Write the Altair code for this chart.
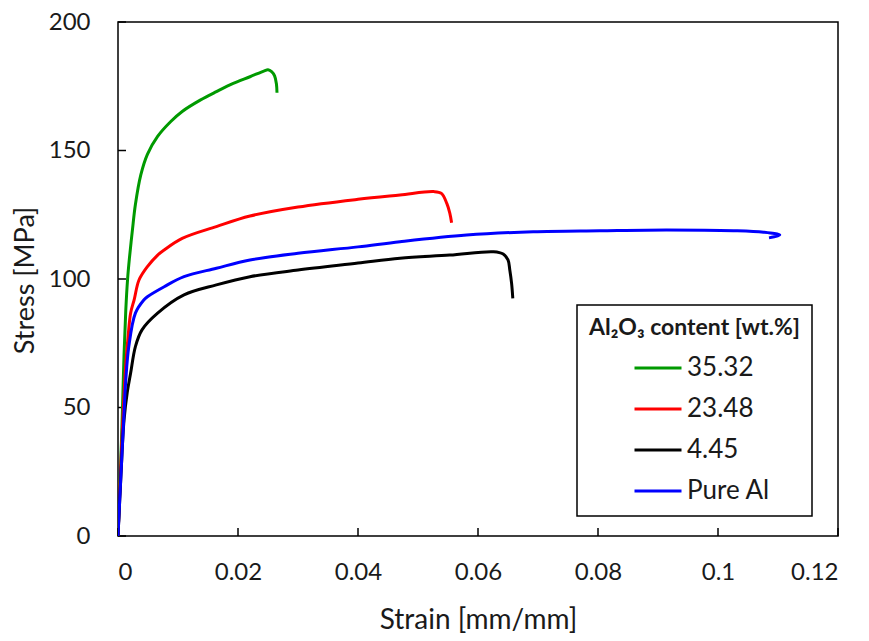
import altair as alt
import pandas as pd

# ---- data ----
series_names = ["35.32", "23.48", "4.45", "Pure Al"]
series_colors = ["#009a00", "#ff0000", "#000000", "#0000ff"]

green_strain = [0, 0.0004, 0.0007, 0.001, 0.0013, 0.0016, 0.0019, 0.0024, 0.0029, 0.0038,
                0.0049, 0.0066, 0.0088, 0.0107, 0.0137, 0.0164, 0.0192, 0.022, 0.0244,
                0.025, 0.0256, 0.0261, 0.0264, 0.0265]
green_stress = [0, 25, 46, 70, 88, 100, 108, 119, 129, 140.5,
                148.5, 155.5, 161.3, 165.2, 169.6, 172.9, 176.1, 178.7, 181.0,
                181.4, 180.7, 179.0, 176.0, 172.5]

red_strain = [0, 0.0004, 0.0009, 0.0013, 0.0017, 0.0021, 0.0027, 0.0035, 0.0049, 0.0067,
              0.0077, 0.0107, 0.0164, 0.022, 0.03, 0.04, 0.047, 0.0526, 0.0539, 0.0548,
              0.0553, 0.0556]
red_stress = [0, 23, 50, 67, 78, 86.7, 92, 99.6, 104.8, 109.5,
              111.3, 115.8, 120.4, 124.5, 128, 131, 132.7, 134, 133.3, 129.4,
              125.6, 121.9]

black_strain = [0, 0.0005, 0.001, 0.00155, 0.0021, 0.0029, 0.004, 0.0066, 0.011, 0.0164,
                0.022, 0.03, 0.04, 0.047, 0.0553, 0.0626, 0.0642, 0.065, 0.0653, 0.0656,
                0.0658]
black_stress = [0, 24, 45, 56, 63.3, 73.7, 80.2, 86.7, 93.8, 97.7,
                100.9, 103.5, 106.2, 108.1, 109.3, 110.6, 109.7, 107.4, 103.5, 98.3,
                92.5]

blue_strain = [0, 0.00045, 0.001, 0.0013, 0.0018, 0.0029, 0.0043, 0.0049, 0.0077, 0.011,
               0.0164, 0.022, 0.03, 0.04, 0.047, 0.0581, 0.0692, 0.0803, 0.0914, 0.1026,
               0.1076, 0.1103, 0.1085]
blue_stress = [0, 21.8, 47.7, 60.7, 73.7, 86.7, 91.8, 93.1, 97, 100.9,
               104.2, 107.4, 110, 112.5, 114.5, 117.1, 118.4, 118.8, 119.1, 118.8,
               118.2, 117.1, 116.0]

x_ticks = [0, 0.02, 0.04, 0.06, 0.08, 0.1, 0.12]
y_ticks = [0, 50, 100, 150, 200]

# ---- build table ----
rows = []
for name, xs, ys in zip(series_names,
                        [green_strain, red_strain, black_strain, blue_strain],
                        [green_stress, red_stress, black_stress, blue_stress]):
    for i, (sx, sy) in enumerate(zip(xs, ys)):
        rows.append({"series": name, "strain": sx, "stress": sy, "idx": i})
df = pd.DataFrame(rows)

W, H = 720, 514
FONT = "Lato"
TXT = "#1a1a1a"

x_axis = alt.Axis(values=x_ticks, format="~g", title="Strain [mm/mm]", grid=False,
                  domain=False, ticks=False, tickSize=0, labelFont=FONT, labelFontSize=24,
                  labelColor=TXT, labelPadding=24, titleFont=FONT, titleFontSize=28,
                  titleFontWeight="normal", titleColor=TXT, titleY=84,
                  titleBaseline="middle")
y_axis = alt.Axis(values=y_ticks, title="Stress [MPa]", grid=False, domain=False,
                  ticks=False, tickSize=0, labelFont=FONT, labelFontSize=24,
                  labelColor=TXT, labelPadding=28, titleFont=FONT, titleFontSize=27,
                  titleFontWeight="normal", titleColor=TXT, titleX=-93, titleY=258,
                  titleAngle=270, titleBaseline="middle", titleAlign="center")

x_scale = alt.Scale(domain=[0, 0.12], nice=False, zero=True)
y_scale = alt.Scale(domain=[0, 200], nice=False, zero=True)

legend = alt.Legend(title="Al₂O₃ content [wt.%]", orient="none",
                    legendX=459, legendY=283,
                    direction="vertical", strokeColor="black", fillColor="white",
                    padding=12, titleFont=FONT, titleFontSize=23, titleFontWeight="bold",
                    titleColor=TXT, titlePadding=16, titleLimit=400, labelFont=FONT,
                    labelFontSize=26, labelColor=TXT, symbolType="stroke", symbolSize=2209,
                    symbolStrokeWidth=3, clipHeight=24, rowPadding=15, symbolOffset=44,
                    labelOffset=4)

lines = alt.Chart(df).mark_line(strokeWidth=3, clip=True, interpolate="catmull-rom").encode(
    x=alt.X("strain:Q", scale=x_scale, axis=x_axis),
    y=alt.Y("stress:Q", scale=y_scale, axis=y_axis),
    color=alt.Color("series:N", scale=alt.Scale(domain=series_names, range=series_colors),
                    legend=legend),
    order="idx:Q",
)

xt = alt.Chart(pd.DataFrame({"strain": x_ticks})).mark_rule(color="black", strokeWidth=1.5).encode(
    x=alt.X("strain:Q", scale=x_scale), y=alt.value(H), y2=alt.value(H - 8))
yt = alt.Chart(pd.DataFrame({"stress": y_ticks})).mark_rule(color="black", strokeWidth=1.5).encode(
    y=alt.Y("stress:Q", scale=y_scale), x=alt.value(0), x2=alt.value(8))

chart = alt.layer(xt, yt, lines).properties(
    width=W, height=H,
    autosize=alt.AutoSizeParams(type="none"),
    padding={"left": 110, "top": 14, "right": 23, "bottom": 97},
    background="white",
).configure_view(stroke="black", strokeWidth=1.5).configure_legend(strokeWidth=1.5)

chart.save("out.html", embed_options={"renderer": "svg", "actions": False})
